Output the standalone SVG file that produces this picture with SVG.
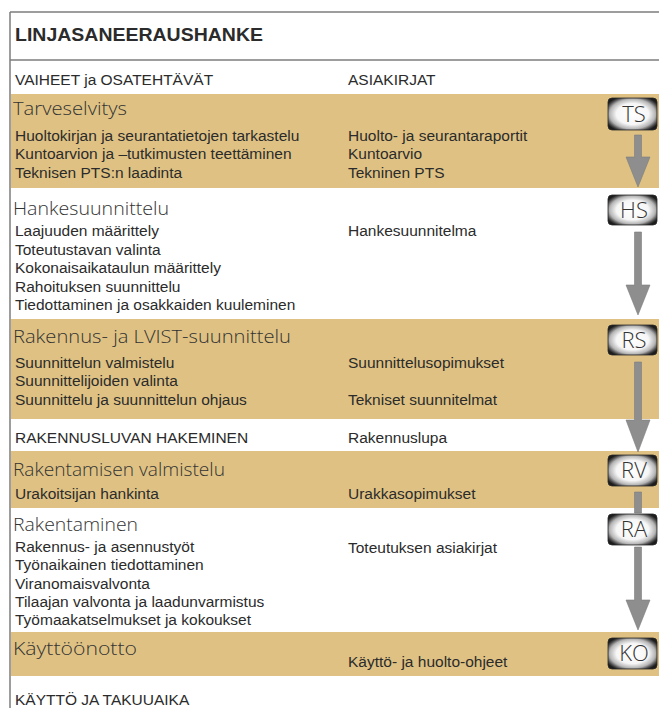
<svg xmlns="http://www.w3.org/2000/svg" width="659" height="708" viewBox="0 0 659 708">
<style>
.frame{stroke:#7d7d7d;stroke-width:1.5;fill:none}
.band{fill:#dfc283}
.t{font-family:"Liberation Sans",Arial,sans-serif;font-size:15.5px;fill:#2b2b2b}
.h{font-family:"Liberation Sans",Arial,sans-serif;font-size:19px;font-weight:bold;fill:#2b2b2b}
.s{font-family:"Open Sans","Lato","DejaVu Sans",sans-serif;font-weight:300;font-size:19px;fill:#333}
.bt{font-family:"Open Sans","Lato","DejaVu Sans",sans-serif;font-weight:300;font-size:22px;fill:#333;text-anchor:middle}
.badge{fill:url(#bg);stroke:#2a2a2a;stroke-width:0.8}
.arr{fill:#8e8e8e;stroke:#7c7c7c;stroke-width:0.6}
</style>
<defs>
<radialGradient id="bg" cx="0.5" cy="0.5" r="0.6">
<stop offset="0" stop-color="#ffffff"/>
<stop offset="0.55" stop-color="#f6f6f6"/>
<stop offset="0.78" stop-color="#b5b5b5"/>
<stop offset="0.92" stop-color="#4a4a4a"/>
<stop offset="1" stop-color="#1c1c1c"/>
</radialGradient>
</defs>
<rect width="659" height="708" fill="#ffffff"/>
<g id="header">
<line class="frame" x1="10" y1="12" x2="659" y2="12"/>
<line class="frame" x1="10" y1="60" x2="659" y2="60"/>
<line class="frame" x1="10" y1="12" x2="10" y2="708"/>
<text class="h" x="15" y="41" textLength="248" lengthAdjust="spacingAndGlyphs">LINJASANEERAUSHANKE</text>
<text class="t" x="15" y="85">VAIHEET ja OSATEHTÄVÄT</text>
<text class="t" x="348" y="85">ASIAKIRJAT</text>
</g>
<g id="tarveselvitys">
<rect class="band" x="11" y="94" width="648" height="94"/>
<text class="s" x="13" y="115" textLength="114" lengthAdjust="spacingAndGlyphs">Tarveselvitys</text>
<text class="t" x="15" y="140.5">Huoltokirjan ja seurantatietojen tarkastelu</text>
<text class="t" x="15" y="159">Kuntoarvion ja –tutkimusten teettäminen</text>
<text class="t" x="15" y="177.5">Teknisen PTS:n laadinta</text>
<text class="t" x="348" y="140.5">Huolto- ja seurantaraportit</text>
<text class="t" x="348" y="159">Kuntoarvio</text>
<text class="t" x="348" y="177.5">Tekninen PTS</text>
</g>
<g id="hankesuunnittelu">
<text class="s" x="13" y="215" textLength="156" lengthAdjust="spacingAndGlyphs">Hankesuunnittelu</text>
<text class="t" x="15" y="236">Laajuuden määrittely</text>
<text class="t" x="15" y="254.5">Toteutustavan valinta</text>
<text class="t" x="15" y="273">Kokonaisaikataulun määrittely</text>
<text class="t" x="15" y="291.5">Rahoituksen suunnittelu</text>
<text class="t" x="15" y="310">Tiedottaminen ja osakkaiden kuuleminen</text>
<text class="t" x="348" y="236">Hankesuunnitelma</text>
</g>
<g id="rakennussuunnittelu">
<rect class="band" x="11" y="319" width="648" height="100"/>
<text class="s" x="13" y="343" textLength="278" lengthAdjust="spacingAndGlyphs">Rakennus- ja LVIST-suunnittelu</text>
<text class="t" x="15" y="367.5">Suunnittelun valmistelu</text>
<text class="t" x="15" y="386">Suunnittelijoiden valinta</text>
<text class="t" x="15" y="404.5">Suunnittelu ja suunnittelun ohjaus</text>
<text class="t" x="348" y="367.5">Suunnittelusopimukset</text>
<text class="t" x="348" y="404.5">Tekniset suunnitelmat</text>
</g>
<g id="rakennuslupa">
<text class="t" x="15" y="442.5">RAKENNUSLUVAN HAKEMINEN</text>
<text class="t" x="348" y="442.5">Rakennuslupa</text>
</g>
<g id="rakentamisen-valmistelu">
<rect class="band" x="11" y="451" width="648" height="57"/>
<text class="s" x="13" y="476" textLength="212" lengthAdjust="spacingAndGlyphs">Rakentamisen valmistelu</text>
<text class="t" x="15" y="499">Urakoitsijan hankinta</text>
<text class="t" x="348" y="499">Urakkasopimukset</text>
</g>
<g id="rakentaminen">
<text class="s" x="13" y="531" textLength="125" lengthAdjust="spacingAndGlyphs">Rakentaminen</text>
<text class="t" x="15" y="551.5">Rakennus- ja asennustyöt</text>
<text class="t" x="15" y="570">Työnaikainen tiedottaminen</text>
<text class="t" x="15" y="588.5">Viranomaisvalvonta</text>
<text class="t" x="15" y="607">Tilaajan valvonta ja laadunvarmistus</text>
<text class="t" x="15" y="625">Työmaakatselmukset ja kokoukset</text>
<text class="t" x="348" y="552.5">Toteutuksen asiakirjat</text>
</g>
<g id="kayttoonotto">
<rect class="band" x="11" y="632" width="648" height="44"/>
<text class="s" x="13" y="655" textLength="124" lengthAdjust="spacingAndGlyphs">Käyttöönotto</text>
<text class="t" x="348" y="666.5">Käyttö- ja huolto-ohjeet</text>
</g>
<g id="kaytto-takuuaika">
<text class="t" x="15" y="705">KÄYTTÖ JA TAKUUAIKA</text>
</g>
<g id="connectors">
<path class="arr" d="M634.5,135H641.5V157H650L638,187L626,157H634.5Z"/>
<path class="arr" d="M634.5,232H641.5V285H650L638,315L626,285H634.5Z"/>
<path class="arr" d="M634.5,362H641.5V420H650L638,452L626,420H634.5Z"/>
<path class="arr" d="M634.5,492H641.5V513H634.5Z"/>
<path class="arr" d="M634.5,547H641.5V600H650L638,630L626,600H634.5Z"/>
</g>
<g id="badge-TS"><rect class="badge" x="608" y="98" width="49" height="32" rx="4"/><text class="bt" x="634" y="122">TS</text></g>
<g id="badge-HS"><rect class="badge" x="608" y="195" width="49" height="30" rx="4"/><text class="bt" x="634" y="218">HS</text></g>
<g id="badge-RS"><rect class="badge" x="608" y="325" width="49" height="30" rx="4"/><text class="bt" x="634" y="348">RS</text></g>
<g id="badge-RV"><rect class="badge" x="608" y="455" width="49" height="31" rx="4"/><text class="bt" x="634" y="478">RV</text></g>
<g id="badge-RA"><rect class="badge" x="608" y="514" width="49" height="31" rx="4"/><text class="bt" x="634" y="537">RA</text></g>
<g id="badge-KO"><rect class="badge" x="608" y="638" width="49" height="31" rx="4"/><text class="bt" x="634" y="661">KO</text></g>
</svg>
